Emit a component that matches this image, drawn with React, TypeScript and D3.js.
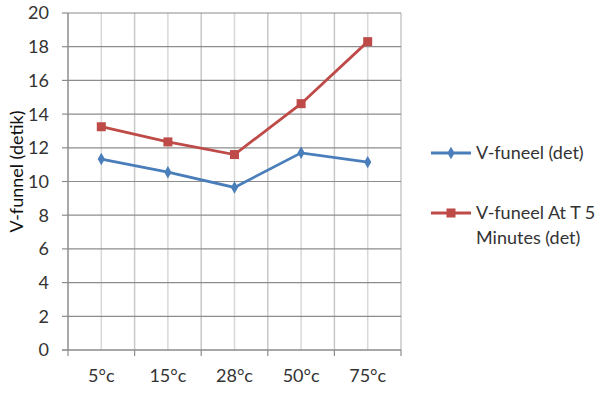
import React from "react";
import * as d3 from "d3";

const categories = ["5°c", "15°c", "28°c", "50°c", "75°c"];
const vFunnel = [11.33, 10.55, 9.65, 11.7, 11.15];
const vFunnelT5 = [13.25, 12.35, 11.6, 14.62, 18.3];
const yTicks = [0, 2, 4, 6, 8, 10, 12, 14, 16, 18, 20];

const W = 595;
const H = 396;
const left = 68;
const right = 401;
const top = 13;
const bottom = 350;
const FONT = "Lato, 'Open Sans', sans-serif";

export default function App() {
  const x = d3.scaleBand<string>().domain(categories).range([left, right]);
  const y = d3.scaleLinear().domain([0, 20]).range([bottom, top]);
  const cx = (c: string) => (x(c) ?? 0) + x.bandwidth() / 2;

  const line = d3
    .line<number>()
    .x((_, i) => cx(categories[i]))
    .y((d) => y(d));

  const diamond = d3.symbol().type(d3.symbolDiamond).size(45)();

  const blue = "#4A7EBB";
  const red = "#BE4B48";

  return (
    <svg
      width={W}
      height={H}
      style={{ position: "absolute", left: 0, top: 0, background: "#fff" }}
      fontFamily={FONT}
    >
      {/* vertical grid: band edges and band centers */}
      {categories.map((c) => (
        <g key={c}>
          <line x1={x(c)} x2={x(c)} y1={top} y2={bottom} stroke="#c8c8c8" strokeWidth={1.5} />
          <line x1={cx(c)} x2={cx(c)} y1={top} y2={bottom} stroke="#d8d8d8" strokeWidth={1.5} />
        </g>
      ))}
      <line x1={right} x2={right} y1={top} y2={bottom} stroke="#c8c8c8" strokeWidth={1.5} />

      {/* horizontal grid */}
      {yTicks.map((t) => (
        <g key={t}>
          <line x1={left} x2={right} y1={y(t)} y2={y(t)} stroke="#8c8c8c" strokeWidth={1.2} />
          <line x1={left - 6} x2={left} y1={y(t)} y2={y(t)} stroke="#8c8c8c" strokeWidth={1.2} />
          <text x={left - 19} y={y(t)} dy="0.36em" textAnchor="end" fontSize={18} fill="#333">
            {t}
          </text>
        </g>
      ))}

      {/* axes */}
      <line x1={left} x2={left} y1={top} y2={bottom} stroke="#8c8c8c" strokeWidth={1.2} />
      <line x1={left - 6} x2={right} y1={bottom} y2={bottom} stroke="#8c8c8c" strokeWidth={1.2} />
      {[...categories.map((c) => x(c) ?? 0), right].map((px, i) => (
        <line key={i} x1={px} x2={px} y1={bottom} y2={bottom + 6} stroke="#8c8c8c" strokeWidth={1.2} />
      ))}
      {categories.map((c) => (
        <text key={c} x={cx(c)} y={bottom + 32} textAnchor="middle" fontSize={18} fill="#333">
          {c}
        </text>
      ))}

      <text
        transform={`translate(23,${(top + bottom) / 2 - 10}) rotate(-90)`}
        textAnchor="middle"
        fontSize={18}
        fill="#111"
      >
        V-funnel (detik)
      </text>

      {/* series */}
      <path d={line(vFunnel) ?? ""} fill="none" stroke={blue} strokeWidth={2.8} />
      {vFunnel.map((v, i) => (
        <path key={i} d={diamond ?? ""} transform={`translate(${cx(categories[i])},${y(v)})`} fill={blue} />
      ))}
      <path d={line(vFunnelT5) ?? ""} fill="none" stroke={red} strokeWidth={2.8} />
      {vFunnelT5.map((v, i) => (
        <rect key={i} x={cx(categories[i]) - 4.5} y={y(v) - 4.5} width={9} height={9} fill={red} />
      ))}

      {/* legend */}
      <g>
        <line x1={431} x2={471} y1={153} y2={153} stroke={blue} strokeWidth={2.8} />
        <path d={diamond ?? ""} transform="translate(451,153)" fill={blue} />
        <text x={476} y={153} dy="0.36em" fontSize={18} fill="#333">
          V-funeel (det)
        </text>
        <line x1={431} x2={471} y1={213} y2={213} stroke={red} strokeWidth={2.8} />
        <rect x={446.5} y={208.5} width={9} height={9} fill={red} />
        <text x={476} y={213} dy="0.36em" fontSize={18} fill="#333">
          V-funeel At T 5
        </text>
        <text x={476} y={238} dy="0.36em" fontSize={18} fill="#333">
          Minutes (det)
        </text>
      </g>
    </svg>
  );
}
